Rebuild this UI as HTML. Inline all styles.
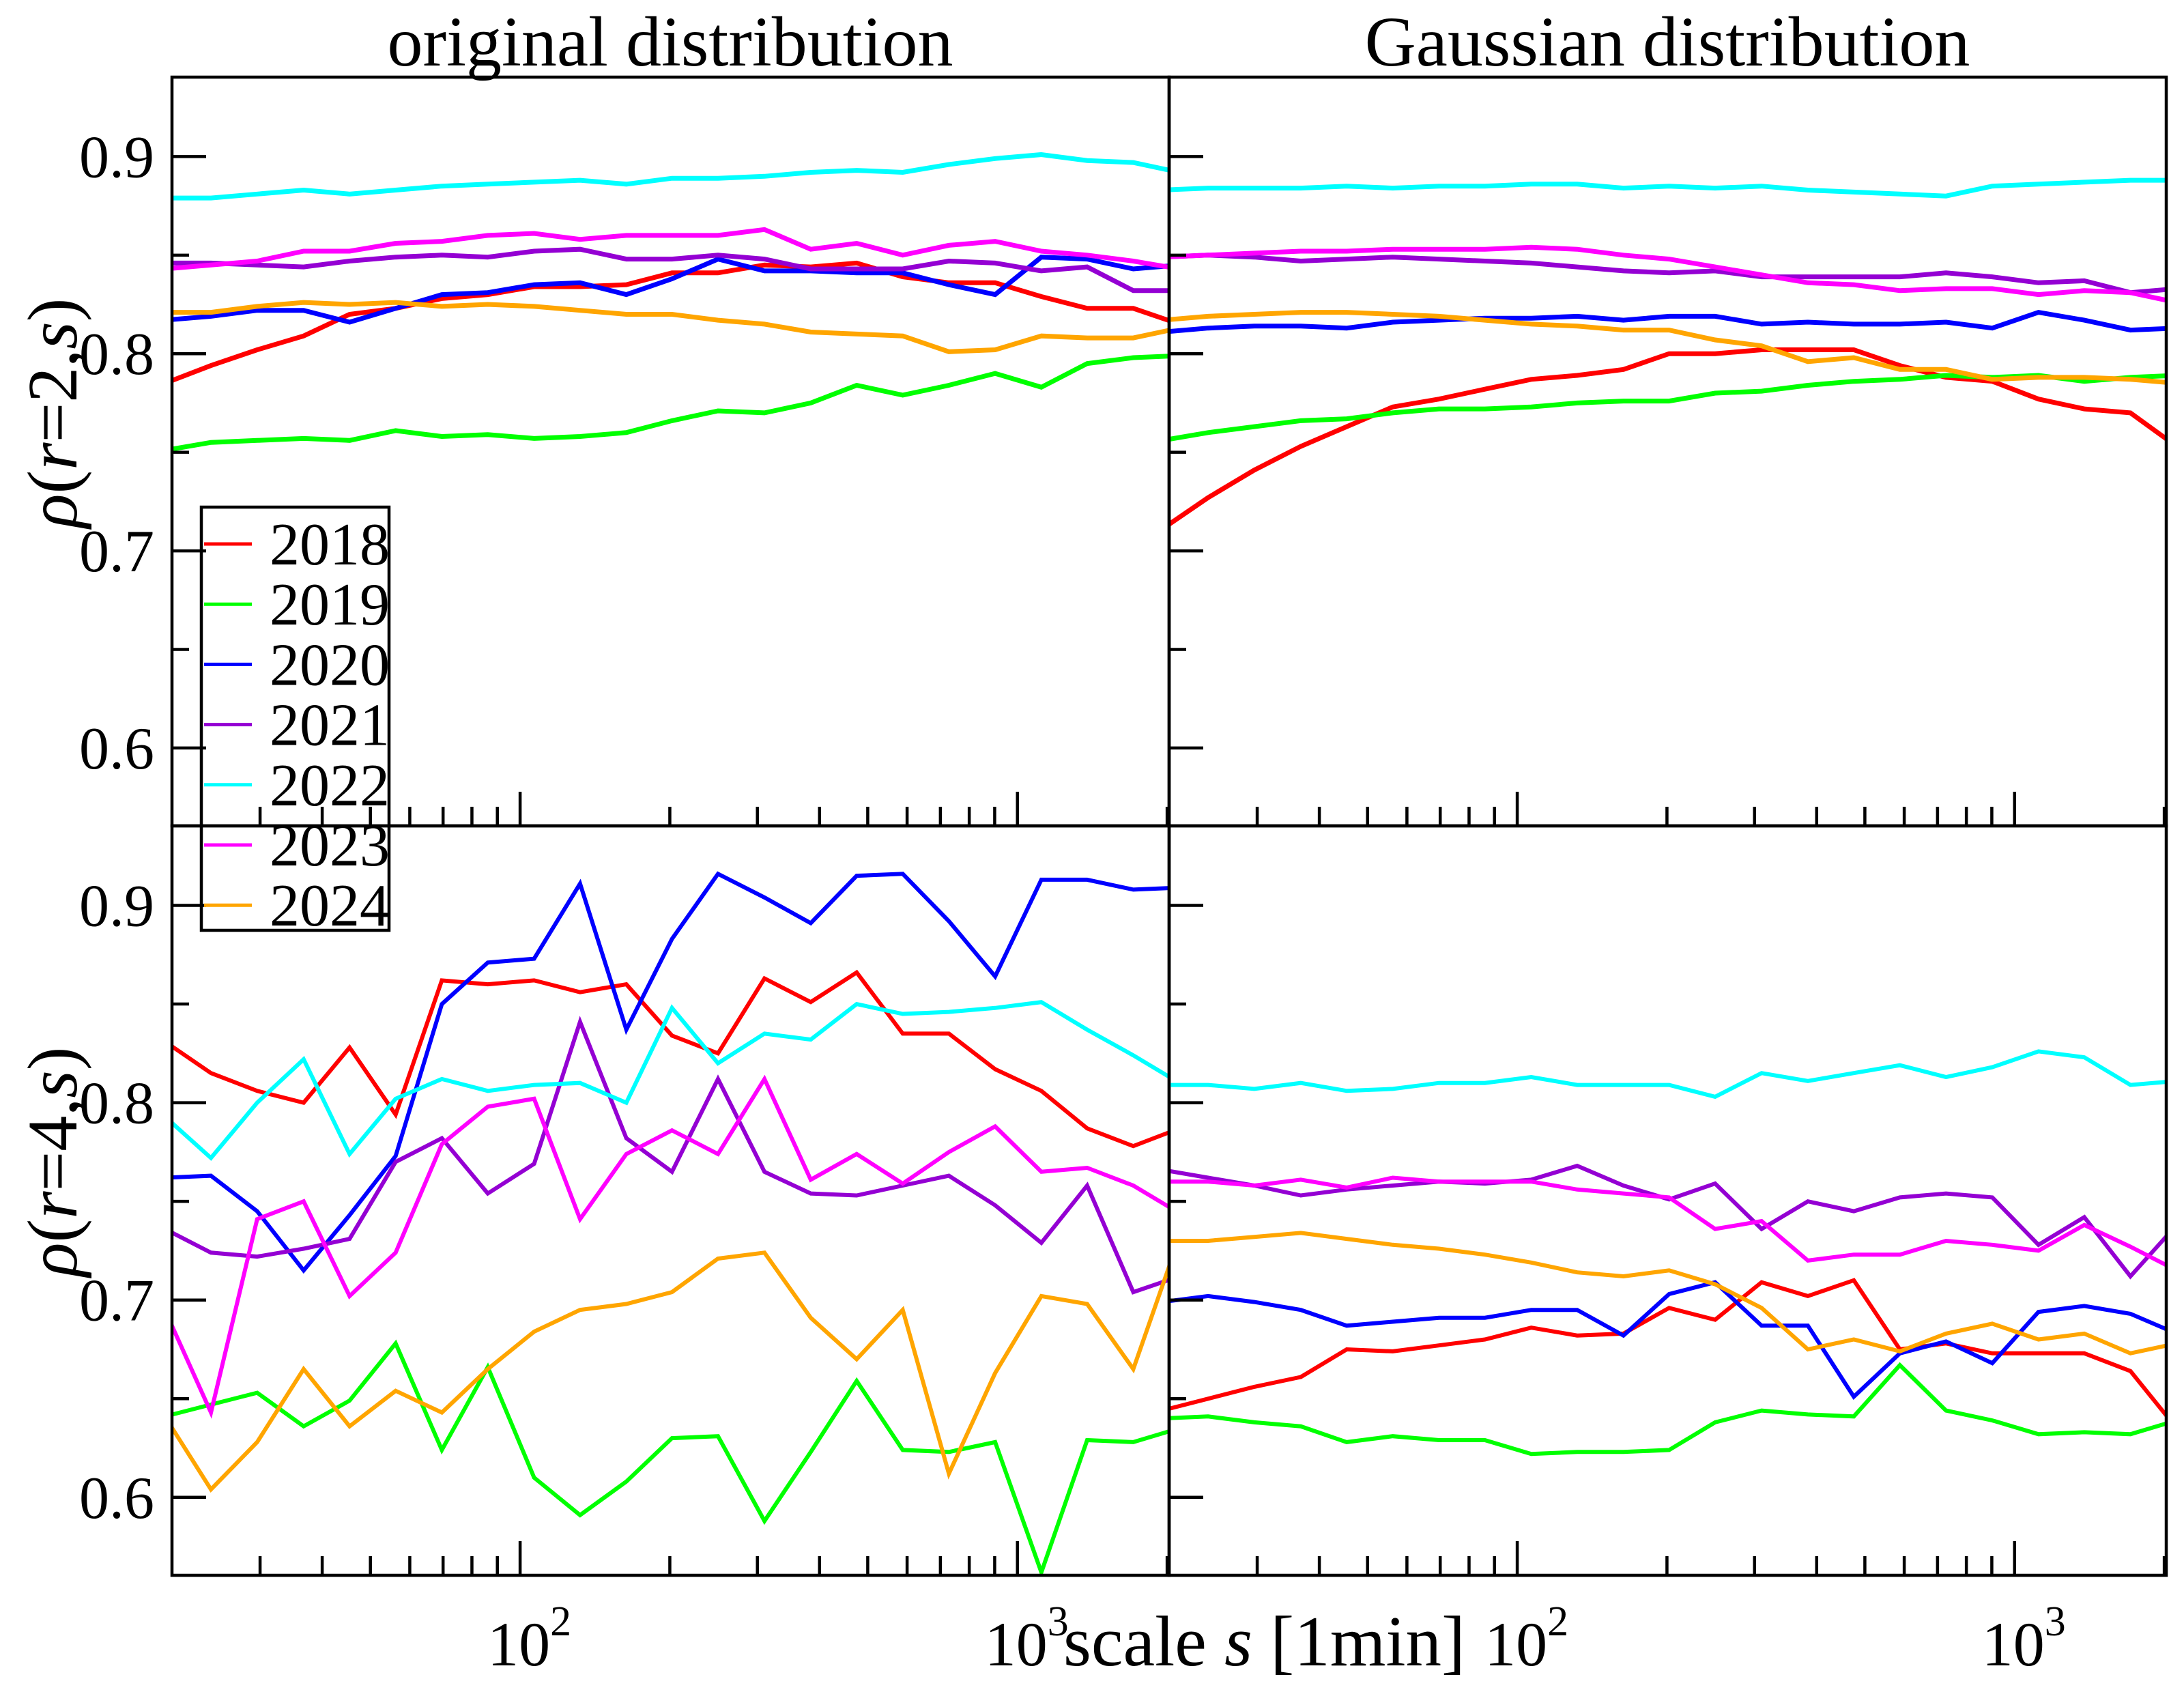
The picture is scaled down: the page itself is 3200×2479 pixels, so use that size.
<!DOCTYPE html>
<html><head><meta charset="utf-8"><style>
html,body{margin:0;padding:0;background:#fff;}
svg{display:block;}
text{font-family:"Liberation Serif","Times New Roman",serif;fill:#000;}
</style></head><body>
<svg id="chart" width="3200" height="2479" viewBox="0 0 3200 2479" xmlns="http://www.w3.org/2000/svg">
<text x="982" y="96" font-size="104" text-anchor="middle">original distribution</text>
<text x="2443" y="96" font-size="104" text-anchor="middle">Gaussian distribution</text>
<text transform="translate(112,605) rotate(-90)" font-size="104" text-anchor="middle"><tspan font-style="italic">ρ</tspan>(<tspan font-style="italic">r</tspan>=2,<tspan font-style="italic">s</tspan>)</text>
<text transform="translate(112,1702) rotate(-90)" font-size="104" text-anchor="middle"><tspan font-style="italic">ρ</tspan>(<tspan font-style="italic">r</tspan>=4,<tspan font-style="italic">s</tspan>)</text>
<text x="1558" y="2440" font-size="105">scale <tspan font-style="italic">s</tspan> [1min]</text>
<g id="plots"></g>
<g id="legend"></g>
</svg>
<script>
const NS='http://www.w3.org/2000/svg';
const sVals=[19.3,23.9,29.6,36.7,45.4,56.2,69.6,86.1,106.7,132,163.5,202,250,310,384,475,588,728,902,1117,1381,1710,2118];
const years=['2018','2019','2020','2021','2022','2023','2024'];
const colors=['#ff0000','#00ff00','#0000ff','#9400d3','#00ffff','#ff00ff','#ffa500'];
const yTickLabels=['0.6','0.7','0.8','0.9'];
const yTickVals=[0.6,0.7,0.8,0.9];
const yMinorVals=[0.65,0.75,0.85];
const xMajorVals=[100,1000];
const xMajorExp=['2','3'];
const xMinorVals=[30,40,50,60,70,80,90,200,300,400,500,600,700,800,900,2000];

const orig2_2018=[0.785,0.794,0.802,0.809,0.820,0.823,0.828,0.830,0.834,0.834,0.835,0.841,0.841,0.845,0.844,0.846,0.839,0.836,0.836,0.829,0.823,0.823,0.815];
const orig2_2019=[0.751,0.755,0.756,0.757,0.756,0.761,0.758,0.759,0.757,0.758,0.760,0.766,0.771,0.770,0.775,0.784,0.779,0.784,0.790,0.783,0.795,0.798,0.799];
const orig2_2020=[0.817,0.819,0.822,0.822,0.816,0.823,0.830,0.831,0.835,0.836,0.830,0.838,0.848,0.842,0.842,0.841,0.841,0.835,0.830,0.849,0.848,0.843,0.845];
const orig2_2021=[0.846,0.846,0.845,0.844,0.847,0.849,0.850,0.849,0.852,0.853,0.848,0.848,0.850,0.848,0.843,0.843,0.843,0.847,0.846,0.842,0.844,0.832,0.832];
const orig2_2022=[0.879,0.879,0.881,0.883,0.881,0.883,0.885,0.886,0.887,0.888,0.886,0.889,0.889,0.890,0.892,0.893,0.892,0.896,0.899,0.901,0.898,0.897,0.892];
const orig2_2023=[0.843,0.845,0.847,0.852,0.852,0.856,0.857,0.860,0.861,0.858,0.860,0.860,0.860,0.863,0.853,0.856,0.850,0.855,0.857,0.852,0.850,0.847,0.843];
const orig2_2024=[0.821,0.821,0.824,0.826,0.825,0.826,0.824,0.825,0.824,0.822,0.820,0.820,0.817,0.815,0.811,0.810,0.809,0.801,0.802,0.809,0.808,0.808,0.813];
const gaus2_2018=[0.711,0.727,0.741,0.753,0.763,0.773,0.777,0.782,0.787,0.789,0.792,0.800,0.800,0.802,0.802,0.802,0.794,0.788,0.786,0.777,0.772,0.770,0.753];
const gaus2_2019=[0.756,0.760,0.763,0.766,0.767,0.770,0.772,0.772,0.773,0.775,0.776,0.776,0.780,0.781,0.784,0.786,0.787,0.789,0.788,0.789,0.786,0.788,0.789];
const gaus2_2020=[0.811,0.813,0.814,0.814,0.813,0.816,0.817,0.818,0.818,0.819,0.817,0.819,0.819,0.815,0.816,0.815,0.815,0.816,0.813,0.821,0.817,0.812,0.813];
const gaus2_2021=[0.849,0.850,0.849,0.847,0.848,0.849,0.848,0.847,0.846,0.844,0.842,0.841,0.842,0.839,0.839,0.839,0.839,0.841,0.839,0.836,0.837,0.831,0.833];
const gaus2_2022=[0.883,0.884,0.884,0.884,0.885,0.884,0.885,0.885,0.886,0.886,0.884,0.885,0.884,0.885,0.883,0.882,0.881,0.880,0.885,0.886,0.887,0.888,0.888];
const gaus2_2023=[0.849,0.850,0.851,0.852,0.852,0.853,0.853,0.853,0.854,0.853,0.850,0.848,0.844,0.840,0.836,0.835,0.832,0.833,0.833,0.830,0.832,0.831,0.826];
const gaus2_2024=[0.817,0.819,0.820,0.821,0.821,0.820,0.819,0.817,0.815,0.814,0.812,0.812,0.807,0.804,0.796,0.798,0.792,0.792,0.787,0.788,0.788,0.787,0.785];
const orig4_2018=[0.831,0.815,0.806,0.800,0.828,0.794,0.862,0.860,0.862,0.856,0.860,0.834,0.825,0.863,0.851,0.866,0.835,0.835,0.817,0.806,0.787,0.778,0.787];
const orig4_2019=[0.641,0.647,0.653,0.636,0.649,0.678,0.624,0.666,0.610,0.591,0.608,0.630,0.631,0.588,0.623,0.659,0.624,0.623,0.628,0.562,0.629,0.628,0.635];
const orig4_2020=[0.762,0.763,0.745,0.715,0.743,0.773,0.850,0.871,0.873,0.911,0.837,0.883,0.916,0.904,0.891,0.915,0.916,0.892,0.864,0.913,0.913,0.908,0.909];
const orig4_2021=[0.736,0.724,0.722,0.726,0.731,0.770,0.782,0.754,0.769,0.841,0.782,0.765,0.812,0.765,0.754,0.753,0.758,0.763,0.748,0.729,0.758,0.704,0.712];
const orig4_2022=[0.793,0.772,0.800,0.822,0.774,0.802,0.812,0.806,0.809,0.810,0.800,0.848,0.820,0.835,0.832,0.850,0.845,0.846,0.848,0.851,0.837,0.824,0.810];
const orig4_2023=[0.695,0.643,0.741,0.750,0.702,0.724,0.779,0.798,0.802,0.741,0.774,0.786,0.774,0.812,0.761,0.774,0.759,0.775,0.788,0.765,0.767,0.758,0.744];
const orig4_2024=[0.641,0.604,0.628,0.665,0.636,0.654,0.643,0.665,0.684,0.695,0.698,0.704,0.721,0.724,0.691,0.670,0.695,0.612,0.663,0.702,0.698,0.665,0.732];
const gaus4_2018=[0.644,0.650,0.656,0.661,0.675,0.674,0.677,0.680,0.686,0.682,0.683,0.696,0.690,0.709,0.702,0.710,0.675,0.678,0.673,0.673,0.673,0.664,0.635];
const gaus4_2019=[0.640,0.641,0.638,0.636,0.628,0.631,0.629,0.629,0.622,0.623,0.623,0.624,0.638,0.644,0.642,0.641,0.667,0.644,0.639,0.632,0.633,0.632,0.639];
const gaus4_2020=[0.699,0.702,0.699,0.695,0.687,0.689,0.691,0.691,0.695,0.695,0.682,0.703,0.709,0.687,0.687,0.651,0.673,0.679,0.668,0.694,0.697,0.693,0.683];
const gaus4_2021=[0.766,0.762,0.758,0.753,0.756,0.758,0.760,0.759,0.761,0.768,0.758,0.751,0.759,0.736,0.750,0.745,0.752,0.754,0.752,0.728,0.742,0.712,0.738];
const gaus4_2022=[0.809,0.809,0.807,0.810,0.806,0.807,0.810,0.810,0.813,0.809,0.809,0.809,0.803,0.815,0.811,0.815,0.819,0.813,0.818,0.826,0.823,0.809,0.811];
const gaus4_2023=[0.760,0.760,0.758,0.761,0.757,0.762,0.760,0.760,0.760,0.756,0.754,0.752,0.736,0.740,0.720,0.723,0.723,0.730,0.728,0.725,0.738,0.727,0.715];
const gaus4_2024=[0.730,0.730,0.732,0.734,0.731,0.728,0.726,0.723,0.719,0.714,0.712,0.715,0.708,0.696,0.675,0.680,0.674,0.683,0.688,0.680,0.683,0.673,0.678];

const panels=[
 {name:'panel-original-r2',x0:252,y0:113,w:1461,h:1097,lw:7,series:[orig2_2018,orig2_2019,orig2_2020,orig2_2021,orig2_2022,orig2_2023,orig2_2024],ylab:true,xlab:false},
 {name:'panel-gaussian-r2',x0:1713,y0:113,w:1461,h:1097,lw:7,series:[gaus2_2018,gaus2_2019,gaus2_2020,gaus2_2021,gaus2_2022,gaus2_2023,gaus2_2024],ylab:false,xlab:false},
 {name:'panel-original-r4',x0:252,y0:1210,w:1461,h:1098,lw:6,series:[orig4_2018,orig4_2019,orig4_2020,orig4_2021,orig4_2022,orig4_2023,orig4_2024],ylab:true,xlab:true},
 {name:'panel-gaussian-r4',x0:1713,y0:1210,w:1461,h:1098,lw:6,series:[gaus4_2018,gaus4_2019,gaus4_2020,gaus4_2021,gaus4_2022,gaus4_2023,gaus4_2024],ylab:false,xlab:true}
];
const LX0=1.3, LX1=3.305, YMIN=0.5605, YMAX=0.9403;
function xs(p,s){return p.x0+(Math.log10(s)-LX0)/(LX1-LX0)*p.w;}
function ys(p,v){return p.y0+(YMAX-v)/(YMAX-YMIN)*p.h;}
function mk(tag,attrs,parent){const e=document.createElementNS(NS,tag);for(const k in attrs)e.setAttribute(k,attrs[k]);parent.appendChild(e);return e;}

const root=document.getElementById('plots');
const defs=mk('defs',{},root);
panels.forEach((p,pi)=>{
  const g=mk('g',{},root);
  
  
  const cp=mk('clipPath',{id:'clip'+pi},defs);
  mk('rect',{x:p.x0,y:p.y0,width:p.w,height:p.h},cp);
  const sg=mk('g',{'clip-path':'url(#clip'+pi+')'},g);
  p.series.forEach((arr,si)=>{
    const d=arr.map((v,i)=>(i?'L':'M')+xs(p,sVals[i]).toFixed(1)+','+ys(p,v).toFixed(1)).join(' ');
    const path=mk('path',{d:d,fill:'none',stroke:colors[si],'stroke-width':p.lw,'stroke-linejoin':'miter'},sg);
    
    
  });
  yTickVals.forEach((v,i)=>{
    const y=ys(p,v);
    const t=mk('line',{x1:p.x0,x2:p.x0+50,y1:y,y2:y,stroke:'#000','stroke-width':4.5},g);
    
    
    if(p.ylab){
      const tx=mk('text',{x:p.x0-26,y:y+30,'font-size':88,'text-anchor':'end'},g);
      
      
      tx.textContent=yTickLabels[i];
    }
  });
  yMinorVals.forEach(v=>{
    const y=ys(p,v);
    const t=mk('line',{x1:p.x0,x2:p.x0+25,y1:y,y2:y,stroke:'#000','stroke-width':4.5},g);
    
    
  });
  const yb=p.y0+p.h;
  xMajorVals.forEach((s,i)=>{
    const x=xs(p,s);
    const t=mk('line',{x1:x,x2:x,y1:yb,y2:yb-50,stroke:'#000','stroke-width':4.5},g);
    
    
    if(p.xlab){
      const tx=mk('text',{x:x-48,y:2440,'font-size':92},g);
      
      
      tx.textContent='10';
      const sup=mk('tspan',{dy:-44,'font-size':62},tx);
      sup.textContent=xMajorExp[i];
    }
  });
  xMinorVals.forEach(s=>{
    const x=xs(p,s);
    if(x>p.x0+p.w)return;
    const t=mk('line',{x1:x,x2:x,y1:yb,y2:yb-28,stroke:'#000','stroke-width':4.5},g);
    
    
  });
  const fr=mk('rect',{x:p.x0,y:p.y0,width:p.w,height:p.h,fill:'none',stroke:'#000','stroke-width':4.5},g);
  
  
});

const lg=document.getElementById('legend');
const lb=mk('rect',{x:295,y:743,width:275,height:620,fill:'none',stroke:'#000','stroke-width':4.5},lg);


years.forEach((yr,i)=>{
  const y=797+i*88.2;
  const ln=mk('line',{x1:299,x2:369,y1:y,y2:y,stroke:colors[i],'stroke-width':5},lg);
  
  
  const tx=mk('text',{x:395,y:y+30,'font-size':88},lg);
  
  
  tx.textContent=yr;
});
</script>
</body></html>
